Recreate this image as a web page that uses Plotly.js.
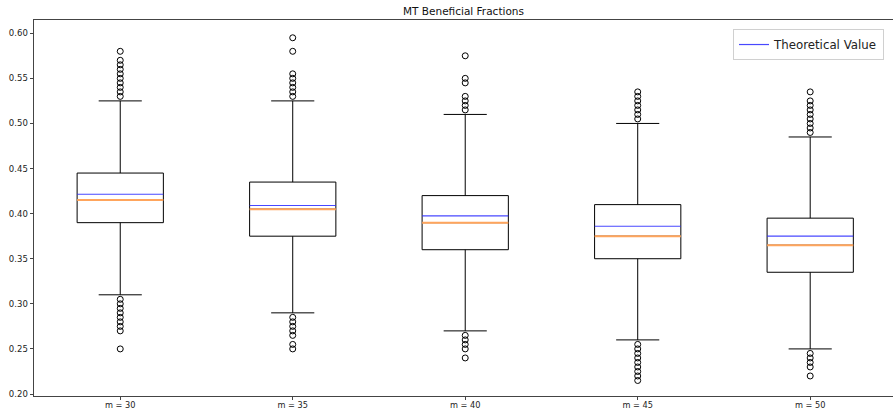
<!DOCTYPE html>
<html>
<head>
<meta charset="utf-8">
<script src="https://cdn.plot.ly/plotly-3.0.1.min.js"></script>
<style>html,body{margin:0;padding:0;background:#fff;}#chart{width:893px;height:410px;}</style>
</head>
<body>
<div id="chart"></div>
<script>
const categories = ["m = 30", "m = 35", "m = 40", "m = 45", "m = 50"];
const q1 = [0.39, 0.375, 0.36, 0.35, 0.335];
const median = [0.415, 0.405, 0.39, 0.375, 0.365];
const q3 = [0.445, 0.435, 0.42, 0.41, 0.395];
const lowerWhisker = [0.31, 0.29, 0.27, 0.26, 0.25];
const upperWhisker = [0.525, 0.525, 0.51, 0.50, 0.485];
const theoretical = [0.4215, 0.409, 0.3975, 0.386, 0.375];
const upperOutliers = [
  [0.53, 0.535, 0.54, 0.545, 0.55, 0.555, 0.56, 0.565, 0.57, 0.58],
  [0.53, 0.535, 0.54, 0.545, 0.55, 0.555, 0.58, 0.595],
  [0.515, 0.52, 0.525, 0.53, 0.545, 0.55, 0.575],
  [0.505, 0.51, 0.515, 0.52, 0.525, 0.53, 0.535],
  [0.49, 0.495, 0.50, 0.505, 0.51, 0.515, 0.52, 0.525, 0.535]
];
const lowerOutliers = [
  [0.305, 0.30, 0.295, 0.29, 0.285, 0.28, 0.275, 0.27, 0.25],
  [0.285, 0.28, 0.275, 0.27, 0.265, 0.255, 0.25],
  [0.265, 0.26, 0.255, 0.25, 0.24],
  [0.255, 0.25, 0.245, 0.24, 0.235, 0.23, 0.225, 0.22, 0.215],
  [0.245, 0.24, 0.235, 0.23, 0.22]
];

const pos = categories.map((c, i) => i + 1);
const boxW = 0.5;

function segs(vals) {
  const xs = [], ys = [];
  vals.forEach((v, i) => {
    xs.push(pos[i] - boxW / 2, pos[i] + boxW / 2, null);
    ys.push(v, v, null);
  });
  return {x: xs, y: ys};
}

const outX = [], outY = [];
categories.forEach((c, i) => {
  upperOutliers[i].concat(lowerOutliers[i]).forEach(v => { outX.push(pos[i]); outY.push(v); });
});

const med = segs(median);
const theo = segs(theoretical);

const traces = [
  {
    type: 'box',
    x: pos,
    q1: q1, median: median, q3: q3,
    lowerfence: lowerWhisker, upperfence: upperWhisker,
    width: boxW,
    whiskerwidth: 0.5,
    boxpoints: false,
    line: {color: 'black', width: 1},
    fillcolor: 'rgba(0,0,0,0)',
    showlegend: false,
    hoverinfo: 'skip'
  },
  {
    type: 'scatter', mode: 'lines',
    x: med.x, y: med.y,
    line: {color: '#ffa55c', width: 2},
    showlegend: false, hoverinfo: 'skip'
  },
  {
    type: 'scatter', mode: 'lines',
    x: theo.x, y: theo.y,
    name: 'Theoretical Value',
    line: {color: 'rgba(40,40,255,0.85)', width: 1.2},
    showlegend: true, hoverinfo: 'skip'
  },
  {
    type: 'scatter', mode: 'markers',
    x: outX, y: outY,
    marker: {symbol: 'circle-open', size: 6, color: 'black', line: {width: 1, color: 'black'}},
    showlegend: false, hoverinfo: 'skip'
  }
];

const layout = {
  width: 893, height: 410,
  margin: {l: 34, r: 0, t: 20, b: 14, pad: 0},
  paper_bgcolor: 'white', plot_bgcolor: 'white',
  font: {family: 'DejaVu Sans', size: 8.5, color: '#222'},
  title: {text: 'MT Beneficial Fractions', font: {size: 10.5, color: '#111'}, x: 0.5, xref: 'paper', y: 1 - 11 / 410, yanchor: 'middle'},
  xaxis: {
    range: [0.5, 5.48], tickvals: pos, ticktext: categories,
    showgrid: false, zeroline: false,
    showline: true, linecolor: '#444', linewidth: 1, mirror: true,
    ticks: 'outside', ticklen: 3, tickcolor: '#444', tickwidth: 1,
    ticklabelstandoff: -2,
    tickfont: {size: 8.2}
  },
  yaxis: {
    range: [0.1978, 0.6147], tickvals: [0.20, 0.25, 0.30, 0.35, 0.40, 0.45, 0.50, 0.55, 0.60],
    tickformat: '.2f',
    showgrid: false, zeroline: false,
    showline: true, linecolor: '#444', linewidth: 1,
    ticks: 'outside', ticklen: 3.5, tickcolor: '#444', tickwidth: 1,
    tickfont: {size: 8.5}
  },
  showlegend: true,
  legend: {
    x: 0.9895, xanchor: 'right', y: 0.976, yanchor: 'top',
    bgcolor: 'rgba(255,255,255,0.8)', bordercolor: '#d0d0d0', borderwidth: 1,
    font: {size: 11.8, color: '#222'}
  }
};

Plotly.newPlot('chart', traces, layout, {displayModeBar: false, staticPlot: true});
</script>
</body>
</html>
